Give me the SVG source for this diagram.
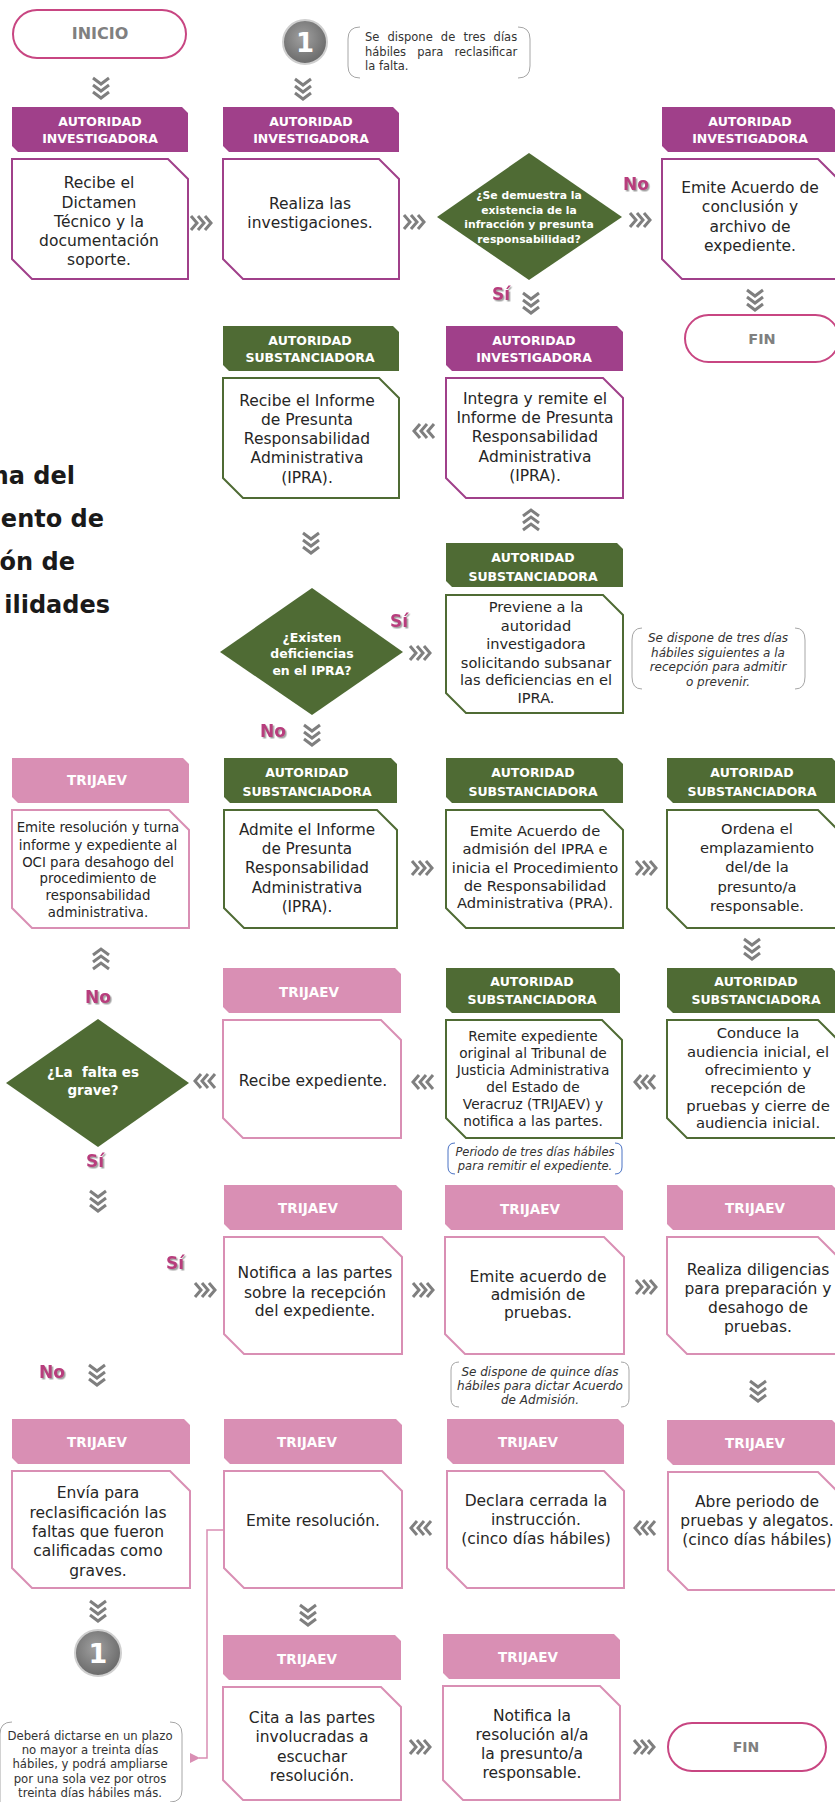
<svg xmlns="http://www.w3.org/2000/svg" width="835" height="1802" viewBox="0 0 835 1802">
<style>
.hp{fill:#a0408a}.hg{fill:#4f6b34}.hk{fill:#d98fb4}
.bp{fill:#fff;stroke:#a0408a;stroke-width:2}
.bg{fill:#fff;stroke:#4f6b34;stroke-width:2}
.bk{fill:#fff;stroke:#d98fb4;stroke-width:2}
.dm{fill:#4f6b34}
.ht{font-family:'DejaVu Sans',sans-serif;font-weight:bold;font-size:12.5px;fill:#fff;text-anchor:middle}
.tj{font-size:13.5px}
.bt{font-family:'DejaVu Sans',sans-serif;font-size:15.5px;fill:#262626;text-anchor:middle}
.dt{font-family:'DejaVu Sans',sans-serif;font-weight:bold;fill:#fff;text-anchor:middle}
.nt{font-family:'DejaVu Sans',sans-serif;font-size:11.5px;fill:#333}
.it{font-style:italic;text-anchor:middle}
.br{fill:none;stroke:#a6a6a6;stroke-width:1}
.lb{font-family:'DejaVu Sans',sans-serif;font-weight:bold;font-size:17px;fill:#b83d7d;text-anchor:middle;filter:url(#sh)}
.pill{fill:#fff;stroke:#c84682;stroke-width:2}
.pt{font-family:'DejaVu Sans',sans-serif;font-weight:bold;fill:#808080;text-anchor:middle}
.ch{fill:none;stroke:#7f7f7f;stroke-width:3}
.ti{font-family:'DejaVu Sans',sans-serif;font-weight:bold;font-size:24px;fill:#1a1a1a;text-anchor:end}
</style>
<defs>
<filter id="sh" x="-20%" y="-20%" width="150%" height="150%"><feDropShadow dx="1.5" dy="1.5" stdDeviation="0.7" flood-color="#7a7a7a" flood-opacity="0.7"/></filter>
<radialGradient id="cg" cx="45%" cy="40%" r="60%"><stop offset="0" stop-color="#a0a0a0"/><stop offset="1" stop-color="#6a6a6a"/></radialGradient>
<g id="cd" class="ch"><polyline points="-8,-10 0,-4 8,-10"/><polyline points="-8,-3 0,3 8,-3"/><polyline points="-8,4 0,10 8,4"/></g>
<g id="cr" class="ch"><polyline points="-10,-7 -4,0 -10,7"/><polyline points="-3,-7 3,0 -3,7"/><polyline points="4,-7 10,0 4,7"/></g>
<marker id="ah" markerWidth="10" markerHeight="10" refX="1" refY="5" orient="auto" markerUnits="userSpaceOnUse"><path d="M10,0 L0,5 L10,10 Z" fill="#d98fb4"/></marker>
</defs>

<g id="title">
<text class="ti" x="75" y="484">ma del</text>
<text class="ti" x="104" y="527">ento de</text>
<text class="ti" x="75" y="570">ón de</text>
<text class="ti" x="110" y="613">ilidades</text>
</g>

<g id="inicio"><rect class="pill" x="13" y="10" width="173" height="48" rx="24"/><text class="pt" x="100" y="39" font-size="16">INICIO</text></g>

<g id="ref1-top"><circle cx="305" cy="42" r="22" fill="url(#cg)" stroke="#cfcfcf" stroke-width="2"/><text x="305" y="52" font-family="'DejaVu Sans',sans-serif" font-weight="bold" font-size="26" fill="#fff" text-anchor="middle">1</text></g>

<g id="note-top">
<path class="br" d="M360 27 Q348 27 348 39 V66 Q348 78 360 78"/>
<path class="br" d="M518 27 Q530 27 530 39 V66 Q530 78 518 78"/>
<text class="nt" x="365" y="41" word-spacing="4.5">Se dispone de tres días</text>
<text class="nt" x="365" y="56" word-spacing="7.5">hábiles para reclasificar</text>
<text class="nt" x="365" y="70">la falta.</text>
</g>

<g id="n1">
<path class="hp" d="M12 107 H182 L188 113 V152 H18 L12 146 Z"/>
<text class="ht" x="100" y="125.5">AUTORIDAD</text><text class="ht" x="100" y="142.5">INVESTIGADORA</text>
<path class="bp" d="M12 159 H168 L188 179 V279 H32 L12 259 Z"/>
<text class="bt" x="99" y="188">Recibe el</text><text class="bt" x="99" y="208">Dictamen</text><text class="bt" x="99" y="227">Técnico y la</text><text class="bt" x="99" y="246">documentación</text><text class="bt" x="99" y="265">soporte.</text>
</g>

<g id="n2">
<path class="hp" d="M223 107 H393 L399 113 V152 H229 L223 146 Z"/>
<text class="ht" x="311" y="125.5">AUTORIDAD</text><text class="ht" x="311" y="142.5">INVESTIGADORA</text>
<path class="bp" d="M223 159 H379 L399 179 V279 H243 L223 259 Z"/>
<text class="bt" x="310" y="209">Realiza las</text><text class="bt" x="310" y="228">investigaciones.</text>
</g>

<g id="d1">
<polygon class="dm" points="437,217 529,153 622,217 529,280"/>
<text class="dt" font-size="10.8" x="529" y="199">¿Se demuestra la</text>
<text class="dt" font-size="10.8" x="529" y="214">existencia de la</text>
<text class="dt" font-size="10.8" x="529" y="228">infracción y presunta</text>
<text class="dt" font-size="10.8" x="529" y="243">responsabilidad?</text>
</g>

<g id="n3">
<path class="hp" d="M662 107 H832 L838 113 V152 H668 L662 146 Z"/>
<text class="ht" x="750" y="125.5">AUTORIDAD</text><text class="ht" x="750" y="142.5">INVESTIGADORA</text>
<path class="bp" d="M662 159 H818 L838 179 V279 H682 L662 259 Z"/>
<text class="bt" x="750" y="193">Emite Acuerdo de</text><text class="bt" x="750" y="212">conclusión y</text><text class="bt" x="750" y="232">archivo de</text><text class="bt" x="750" y="251">expediente.</text>
</g>

<g id="fin1"><rect class="pill" x="685" y="315" width="154" height="47" rx="23.5"/><text class="pt" x="762" y="344" font-size="14.5">FIN</text></g>

<g id="n4">
<path class="hg" d="M223 326 H393 L399 332 V371 H229 L223 365 Z"/>
<text class="ht" x="310" y="345">AUTORIDAD</text><text class="ht" x="310" y="362">SUBSTANCIADORA</text>
<path class="bg" d="M223 378 H379 L399 398 V498 H243 L223 478 Z"/>
<text class="bt" x="307" y="406">Recibe el Informe</text><text class="bt" x="307" y="425">de Presunta</text><text class="bt" x="307" y="444">Responsabilidad</text><text class="bt" x="307" y="463">Administrativa</text><text class="bt" x="307" y="483">(IPRA).</text>
</g>

<g id="n5">
<path class="hp" d="M446 326 H617 L623 332 V371 H452 L446 365 Z"/>
<text class="ht" x="534" y="345">AUTORIDAD</text><text class="ht" x="534" y="362">INVESTIGADORA</text>
<path class="bp" d="M446 378 H603 L623 398 V498 H466 L446 478 Z"/>
<text class="bt" x="535" y="404">Integra y remite el</text><text class="bt" x="535" y="423">Informe de Presunta</text><text class="bt" x="535" y="442">Responsabilidad</text><text class="bt" x="535" y="462">Administrativa</text><text class="bt" x="535" y="481">(IPRA).</text>
</g>

<g id="n6">
<path class="hg" d="M446 543 H617 L623 549 V587 H452 L446 581 Z"/>
<text class="ht" x="533" y="561.5">AUTORIDAD</text><text class="ht" x="533" y="580.5">SUBSTANCIADORA</text>
<path class="bg" d="M446 595 H603 L623 615 V713 H466 L446 693 Z"/>
<g class="bt" style="font-size:14.6px"><text x="536" y="612">Previene a la</text><text x="536" y="631">autoridad</text><text x="536" y="649">investigadora</text><text x="536" y="668">solicitando subsanar</text><text x="536" y="685">las deficiencias en el</text><text x="536" y="703">IPRA.</text></g>
</g>

<g id="note-3">
<path class="br" d="M642 628 Q632 628 632 640 V677 Q632 689 642 689"/>
<path class="br" d="M795 628 Q805 628 805 640 V677 Q805 689 795 689"/>
<g class="nt it" style="font-size:12px"><text x="718" y="642">Se dispone de tres días</text><text x="718" y="657">hábiles siguientes a la</text><text x="718" y="671">recepción para admitir</text><text x="718" y="686">o prevenir.</text></g>
</g>

<g id="d2">
<polygon class="dm" points="220,652 312,588 403,652 312,715"/>
<text class="dt" font-size="12.5" x="312" y="641.5">¿Existen</text>
<text class="dt" font-size="12.5" x="312" y="657.5">deficiencias</text>
<text class="dt" font-size="12.5" x="312" y="674.5">en el IPRA?</text>
</g>

<g id="n7">
<path class="hk" d="M12 758 H183 L189 764 V803 H18 L12 797 Z"/>
<text class="ht tj" x="97" y="785">TRIJAEV</text>
<path class="bk" d="M12 810 H169 L189 830 V928 H32 L12 908 Z"/>
<g class="bt" style="font-size:13.3px"><text x="98" y="832">Emite resolución y turna</text><text x="98" y="850">informe y expediente al</text><text x="98" y="867">OCI para desahogo del</text><text x="98" y="883">procedimiento de</text><text x="98" y="900">responsabilidad</text><text x="98" y="917">administrativa.</text></g>
</g>

<g id="n8">
<path class="hg" d="M224 758 H391 L397 764 V803 H230 L224 797 Z"/>
<text class="ht" x="307" y="776.5">AUTORIDAD</text><text class="ht" x="307" y="795.5">SUBSTANCIADORA</text>
<path class="bg" d="M224 810 H377 L397 830 V928 H244 L224 908 Z"/>
<g class="bt" style="font-size:15.2px"><text x="307" y="835">Admite el Informe</text><text x="307" y="854">de Presunta</text><text x="307" y="873">Responsabilidad</text><text x="307" y="893">Administrativa</text><text x="307" y="912">(IPRA).</text></g>
</g>

<g id="n9">
<path class="hg" d="M446 758 H617 L623 764 V803 H452 L446 797 Z"/>
<text class="ht" x="533" y="776.5">AUTORIDAD</text><text class="ht" x="533" y="795.5">SUBSTANCIADORA</text>
<path class="bg" d="M446 810 H603 L623 830 V928 H466 L446 908 Z"/>
<g class="bt" style="font-size:14.7px"><text x="535" y="836">Emite Acuerdo de</text><text x="535" y="854">admisión del IPRA e</text><text x="535" y="873">inicia el Procedimiento</text><text x="535" y="891">de Responsabilidad</text><text x="535" y="908">Administrativa (PRA).</text></g>
</g>

<g id="n10">
<path class="hg" d="M667 758 H832 L838 764 V803 H673 L667 797 Z"/>
<text class="ht" x="752" y="776.5">AUTORIDAD</text><text class="ht" x="752" y="795.5">SUBSTANCIADORA</text>
<path class="bg" d="M667 810 H818 L838 830 V928 H687 L667 908 Z"/>
<g class="bt" style="font-size:14.7px"><text x="757" y="834">Ordena el</text><text x="757" y="853">emplazamiento</text><text x="757" y="872">del/de la</text><text x="757" y="892">presunto/a</text><text x="757" y="911">responsable.</text></g>
</g>

<g id="n11">
<path class="hg" d="M667 968 H832 L838 974 V1013 H673 L667 1007 Z"/>
<text class="ht" x="756" y="985.5">AUTORIDAD</text><text class="ht" x="756" y="1003.5">SUBSTANCIADORA</text>
<path class="bg" d="M667 1020 H818 L838 1040 V1138 H687 L667 1118 Z"/>
<g class="bt" style="font-size:14.8px"><text x="758" y="1038">Conduce la</text><text x="758" y="1057">audiencia inicial, el</text><text x="758" y="1075">ofrecimiento y</text><text x="758" y="1093">recepción de</text><text x="758" y="1111">pruebas y cierre de</text><text x="758" y="1128">audiencia inicial.</text></g>
</g>

<g id="n12">
<path class="hg" d="M446 968 H614 L620 974 V1013 H452 L446 1007 Z"/>
<text class="ht" x="532" y="985.5">AUTORIDAD</text><text class="ht" x="532" y="1003.5">SUBSTANCIADORA</text>
<path class="bg" d="M446 1020 H602 L622 1040 V1138 H466 L446 1118 Z"/>
<g class="bt" style="font-size:13.7px"><text x="533" y="1041">Remite expediente</text><text x="533" y="1058">original al Tribunal de</text><text x="533" y="1075">Justicia Administrativa</text><text x="533" y="1092">del Estado de</text><text x="533" y="1109">Veracruz (TRIJAEV) y</text><text x="533" y="1126">notifica a las partes.</text></g>
</g>

<g id="note-5">
<path class="br" style="stroke:#4a72c4" d="M455 1143 Q448 1143 448 1150 V1167 Q448 1174 455 1174"/>
<path class="br" style="stroke:#4a72c4" d="M615 1143 Q622 1143 622 1150 V1167 Q622 1174 615 1174"/>
<g class="nt it" style="font-size:11.5px"><text x="535" y="1156">Periodo de tres días hábiles</text><text x="535" y="1170">para remitir el expediente.</text></g>
</g>

<g id="n13">
<path class="hk" d="M223 968 H395 L401 974 V1013 H229 L223 1007 Z"/>
<text class="ht tj" x="309" y="997">TRIJAEV</text>
<path class="bk" d="M223 1020 H381 L401 1040 V1138 H243 L223 1118 Z"/>
<text class="bt" x="313" y="1086">Recibe expediente.</text>
</g>

<g id="d3">
<polygon class="dm" points="6,1083 98,1019 189,1083 98,1147"/>
<text class="dt" font-size="13.5" x="93" y="1077" style="white-space:pre">¿La  falta es</text>
<text class="dt" font-size="13.5" x="93" y="1095">grave?</text>
</g>

<g id="n14">
<path class="hk" d="M224 1185 H396 L402 1191 V1230 H230 L224 1224 Z"/>
<text class="ht tj" x="308" y="1213">TRIJAEV</text>
<path class="bk" d="M224 1237 H382 L402 1257 V1354 H244 L224 1334 Z"/>
<text class="bt" x="315" y="1278">Notifica a las partes</text><text class="bt" x="315" y="1298">sobre la recepción</text><text class="bt" x="315" y="1316">del expediente.</text>
</g>

<g id="n15">
<path class="hk" d="M445 1185 H617 L623 1191 V1230 H451 L445 1224 Z"/>
<text class="ht tj" x="530" y="1214">TRIJAEV</text>
<path class="bk" d="M445 1237 H604 L624 1257 V1354 H465 L445 1334 Z"/>
<text class="bt" x="538" y="1282">Emite acuerdo de</text><text class="bt" x="538" y="1300">admisión de</text><text class="bt" x="538" y="1318">pruebas.</text>
</g>

<g id="note-6">
<path class="br" d="M459 1362 Q451 1362 451 1370 V1399 Q451 1407 459 1407"/>
<path class="br" d="M621 1362 Q629 1362 629 1370 V1399 Q629 1407 621 1407"/>
<g class="nt it" style="font-size:12px"><text x="540" y="1376">Se dispone de quince días</text><text x="540" y="1390">hábiles para dictar Acuerdo</text><text x="540" y="1404">de Admisión.</text></g>
</g>

<g id="n16">
<path class="hk" d="M667 1185 H832 L838 1191 V1230 H673 L667 1224 Z"/>
<text class="ht tj" x="755" y="1213">TRIJAEV</text>
<path class="bk" d="M667 1237 H818 L838 1257 V1354 H687 L667 1334 Z"/>
<text class="bt" x="758" y="1275">Realiza diligencias</text><text class="bt" x="758" y="1294">para preparación y</text><text class="bt" x="758" y="1313">desahogo de</text><text class="bt" x="758" y="1332">pruebas.</text>
</g>

<g id="n17">
<path class="hk" d="M12 1419 H184 L190 1425 V1464 H18 L12 1458 Z"/>
<text class="ht tj" x="97" y="1447">TRIJAEV</text>
<path class="bk" d="M12 1471 H170 L190 1491 V1588 H32 L12 1568 Z"/>
<text class="bt" x="98" y="1498">Envía para</text><text class="bt" x="98" y="1518">reclasificación las</text><text class="bt" x="98" y="1537">faltas que fueron</text><text class="bt" x="98" y="1556">calificadas como</text><text class="bt" x="98" y="1576">graves.</text>
</g>

<g id="ref1-bottom"><circle cx="98" cy="1653" r="23" fill="url(#cg)" stroke="#cfcfcf" stroke-width="2"/><text x="98" y="1663" font-family="'DejaVu Sans',sans-serif" font-weight="bold" font-size="27" fill="#fff" text-anchor="middle">1</text></g>

<g id="n18">
<path class="hk" d="M224 1419 H396 L402 1425 V1464 H230 L224 1458 Z"/>
<text class="ht tj" x="307" y="1447">TRIJAEV</text>
<path class="bk" d="M224 1471 H382 L402 1491 V1588 H244 L224 1568 Z"/>
<text class="bt" x="313" y="1526">Emite resolución.</text>
</g>

<g id="n19">
<path class="hk" d="M447 1419 H618 L624 1425 V1464 H453 L447 1458 Z"/>
<text class="ht tj" x="528" y="1447">TRIJAEV</text>
<path class="bk" d="M447 1471 H604 L624 1491 V1588 H467 L447 1568 Z"/>
<text class="bt" x="536" y="1506">Declara cerrada la</text><text class="bt" x="536" y="1525">instrucción.</text><text class="bt" x="536" y="1544">(cinco días hábiles)</text>
</g>

<g id="n20">
<path class="hk" d="M667 1420 H832 L838 1426 V1465 H673 L667 1459 Z"/>
<text class="ht tj" x="755" y="1448">TRIJAEV</text>
<path class="bk" d="M668 1472 H818 L838 1492 V1590 H688 L668 1570 Z"/>
<text class="bt" x="757" y="1507">Abre periodo de</text><text class="bt" x="757" y="1526">pruebas y alegatos.</text><text class="bt" x="757" y="1545">(cinco días hábiles)</text>
</g>

<g id="n21">
<path class="hk" d="M223 1635 H395 L401 1641 V1680 H229 L223 1674 Z"/>
<text class="ht tj" x="307" y="1664">TRIJAEV</text>
<path class="bk" d="M223 1687 H381 L401 1707 V1800 H243 L223 1780 Z"/>
<text class="bt" x="312" y="1723">Cita a las partes</text><text class="bt" x="312" y="1742">involucradas a</text><text class="bt" x="312" y="1762">escuchar</text><text class="bt" x="312" y="1781">resolución.</text>
</g>

<g id="n22">
<path class="hk" d="M443 1634 H614 L620 1640 V1679 H449 L443 1673 Z"/>
<text class="ht tj" x="528" y="1662">TRIJAEV</text>
<path class="bk" d="M443 1686 H600 L620 1706 V1800 H463 L443 1780 Z"/>
<text class="bt" x="532" y="1721">Notifica la</text><text class="bt" x="532" y="1740">resolución al/a</text><text class="bt" x="532" y="1759">la presunto/a</text><text class="bt" x="532" y="1778">responsable.</text>
</g>

<g id="fin2"><rect class="pill" x="668" y="1723" width="158" height="48" rx="24"/><text class="pt" x="746" y="1752" font-size="14">FIN</text></g>

<g id="note-bottom">
<path class="br" d="M12 1722 Q0 1722 0 1734 V1802"/>
<path class="br" d="M170 1722 Q182 1722 182 1734 V1790 Q182 1802 170 1802"/>
<g class="nt" style="font-size:11.7px;text-anchor:middle"><text x="90" y="1740">Deberá dictarse en un plazo</text><text x="90" y="1754">no mayor a treinta días</text><text x="90" y="1768">hábiles, y podrá ampliarse</text><text x="90" y="1783">por una sola vez por otros</text><text x="90" y="1797">treinta días hábiles más.</text></g>
</g>

<g id="labels">
<text class="lb" x="636" y="190">No</text>
<text class="lb" x="501" y="300">Sí</text>
<text class="lb" x="399" y="627">Sí</text>
<text class="lb" x="273" y="737">No</text>
<text class="lb" x="98" y="1003">No</text>
<text class="lb" x="95" y="1167">Sí</text>
<text class="lb" x="175" y="1269">Sí</text>
<text class="lb" x="52" y="1378">No</text>
</g>

<g id="connectors">
<use href="#cd" transform="translate(101,88)"/>
<use href="#cd" transform="translate(303,89)"/>
<use href="#cd" transform="translate(531,303)"/>
<use href="#cd" transform="translate(755,300)"/>
<use href="#cd" transform="translate(311,543)"/>
<use href="#cd" transform="translate(312,735)"/>
<use href="#cd" transform="translate(752,949)"/>
<use href="#cd" transform="translate(98,1201)"/>
<use href="#cd" transform="translate(97,1375)"/>
<use href="#cd" transform="translate(758,1391)"/>
<use href="#cd" transform="translate(98,1611)"/>
<use href="#cd" transform="translate(308,1615)"/>
<use href="#cd" transform="translate(531,520) rotate(180)"/>
<use href="#cd" transform="translate(101,959) rotate(180)"/>
<use href="#cr" transform="translate(201,223)"/>
<use href="#cr" transform="translate(414,222)"/>
<use href="#cr" transform="translate(640,220)"/>
<use href="#cr" transform="translate(420,653)"/>
<use href="#cr" transform="translate(422,868)"/>
<use href="#cr" transform="translate(646,868)"/>
<use href="#cr" transform="translate(205,1290)"/>
<use href="#cr" transform="translate(423,1290)"/>
<use href="#cr" transform="translate(646,1287)"/>
<use href="#cr" transform="translate(420,1747)"/>
<use href="#cr" transform="translate(644,1747)"/>
<use href="#cr" transform="translate(424,431) scale(-1,1)"/>
<use href="#cr" transform="translate(645,1082) scale(-1,1)"/>
<use href="#cr" transform="translate(423,1082) scale(-1,1)"/>
<use href="#cr" transform="translate(205,1081) scale(-1,1)"/>
<use href="#cr" transform="translate(645,1528) scale(-1,1)"/>
<use href="#cr" transform="translate(421,1528) scale(-1,1)"/>
<path d="M224 1530 H207 V1758 H199" fill="none" stroke="#d98fb4" stroke-width="1.5" marker-end="url(#ah)"/>
</g>
</svg>
